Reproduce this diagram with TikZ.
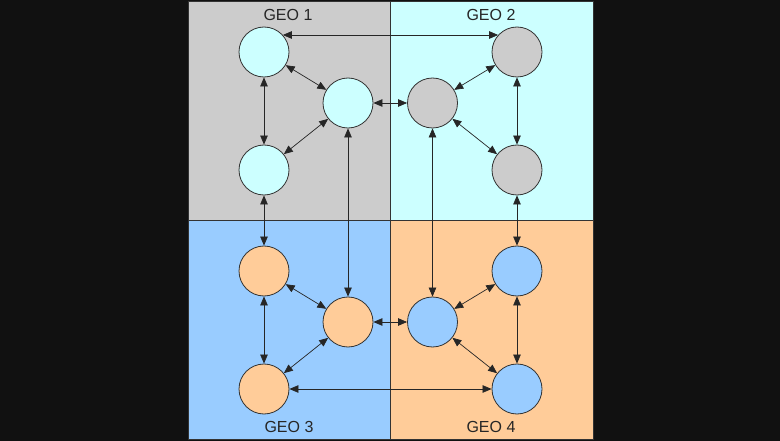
\documentclass[tikz,border=0pt]{standalone}
\usepackage{fontspec}
\setmainfont{Liberation Sans}
\usetikzlibrary{arrows.meta}
\definecolor{bgdark}{HTML}{111111}
\definecolor{geogray}{HTML}{CCCCCC}
\definecolor{geocyan}{HTML}{CCFFFF}
\definecolor{geoblue}{HTML}{99CCFF}
\definecolor{geopeach}{HTML}{FFCC99}
\definecolor{edgecol}{HTML}{333333}
\tikzset{
  site/.style={circle, draw=edgecol, line width=0.8pt, minimum size=50pt, inner sep=0pt},
  link/.style={draw=black!85, line width=0.7pt, {Triangle[length=9pt,width=7.5pt]}-{Triangle[length=9pt,width=7.5pt]}},
  geolabel/.style={font=\fontsize{16}{18}\selectfont, text=black!85},
}
\begin{document}
\begin{tikzpicture}[x=1pt,y=-1pt]
\useasboundingbox (0,0) rectangle (780,441);
\fill[bgdark] (0,0) rectangle (780,441);
% quadrants
\fill[geogray]  (188,1) rectangle (390,220);
\fill[geocyan]  (390,1) rectangle (593,220);
\fill[geoblue]  (188,220) rectangle (390,439);
\fill[geopeach] (390,220) rectangle (593,439);
\draw[edgecol, line width=0.7pt] (188,1) rectangle (593,439);
\draw[edgecol, line width=0.7pt] (390,1) -- (390,439);
\draw[edgecol, line width=0.7pt] (188,220) -- (593,220);
% labels
\node[geolabel] (l1) at (288,15) {GEO 1};
\node[geolabel] (l2) at (491,15) {GEO 2};
\node[geolabel] (l3) at (289,427) {GEO 3};
\node[geolabel] (l4) at (491,427) {GEO 4};
% GEO 1
\node[site, fill=geocyan] (A1) at (264,52) {};
\node[site, fill=geocyan] (B1) at (348,103) {};
\node[site, fill=geocyan] (C1) at (264,170) {};
% GEO 2
\node[site, fill=geogray] (A2) at (517,52) {};
\node[site, fill=geogray] (B2) at (432.5,103) {};
\node[site, fill=geogray] (C2) at (517,170) {};
% GEO 3
\node[site, fill=geopeach] (A3) at (264,271) {};
\node[site, fill=geopeach] (B3) at (348,322) {};
\node[site, fill=geopeach] (C3) at (264,389) {};
% GEO 4
\node[site, fill=geoblue] (A4) at (517,271) {};
\node[site, fill=geoblue] (B4) at (432.5,322) {};
\node[site, fill=geoblue] (C4) at (517,389) {};
% triangles
\foreach \g in {1,2,3,4}{
  \draw[link] (A\g) -- (B\g);
  \draw[link] (B\g) -- (C\g);
  \draw[link] (A\g) -- (C\g);
}
% inter-geo links
\draw[link] (A1.42) -- (A2.138);
\draw[link] (B1) -- (B2);
\draw[link] (B3) -- (B4);
\draw[link] (C3) -- (C4);
\draw[link] (C1) -- (A3);
\draw[link] (B1) -- (B3);
\draw[link] (B2) -- (B4);
\draw[link] (C2) -- (A4);
\end{tikzpicture}
\end{document}
